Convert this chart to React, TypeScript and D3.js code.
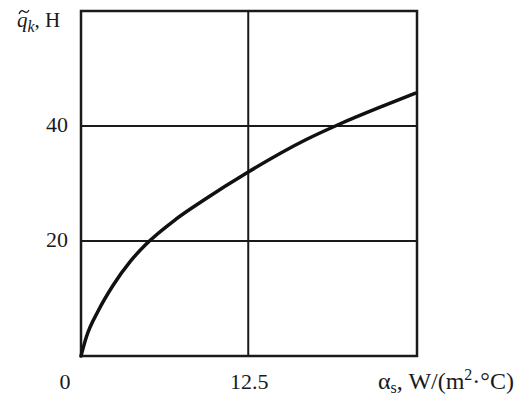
import React from "react";
import * as d3 from "d3";

// values
const alphaS = [0, 0.4, 1.3, 2.4, 3.7, 4.8, 7.1, 9.1, 12.5, 16.8, 19.3, 22.5, 25];
const qk = [0, 3.3, 7.9, 12.3, 16.5, 19.3, 23.8, 27.0, 32.0, 37.6, 40.3, 43.4, 45.7];
const xTicks = [12.5];
const yTicks = [20, 40];

interface DataPoint {
  x: number;
  y: number;
}

export default function App() {
  const width = 528;
  const height = 397;
  const left = 81, right = 417, top = 11, bottom = 356;

  const x = d3.scaleLinear().domain([0, 25]).range([left, right - 1.5]);
  const y = d3.scaleLinear().domain([0, 60]).range([bottom, top]);

  const data: DataPoint[] = alphaS.map((a, i) => ({ x: a, y: qk[i] }));
  const line = d3
    .line<DataPoint>()
    .x((d) => x(d.x))
    .y((d) => y(d.y))
    .curve(d3.curveMonotoneX);

  const font = "'Liberation Serif', 'Times New Roman', serif";

  return (
    <svg
      width={width}
      height={height}
      style={{ position: "absolute", left: 0, top: 0, background: "#fff" }}
      fontFamily={font}
      fontSize={22}
      fill="#1a1a1a"
    >
      {/* grid */}
      {xTicks.map((t) => (
        <line key={"gx" + t} x1={x(t)} x2={x(t)} y1={top} y2={bottom} stroke="#1a1a1a" strokeWidth={2} />
      ))}
      {yTicks.map((t) => (
        <line key={"gy" + t} x1={left} x2={right} y1={y(t)} y2={y(t)} stroke="#1a1a1a" strokeWidth={2} />
      ))}
      {/* frame */}
      <rect x={left} y={top} width={right - left} height={bottom - top} fill="none" stroke="#1a1a1a" strokeWidth={2.5} />

      <path d={line(data) ?? ""} fill="none" stroke="#111" strokeWidth={3.5} strokeLinecap="round" />

      {/* y tick labels */}
      {yTicks.map((t) => (
        <text key={"ly" + t} x={68} y={y(t) + 6} textAnchor="end">
          {t}
        </text>
      ))}
      {/* x tick labels */}
      <text x={65} y={389} textAnchor="middle">0</text>
      {xTicks.map((t) => (
        <text key={"lx" + t} x={x(t) + 1} y={389} textAnchor="middle">
          {t}
        </text>
      ))}

      {/* axis titles */}
      <text x={378} y={389} fontSize={24}>
        {"\u03b1"}
        <tspan fontSize={16} dy={4}>s</tspan>
        <tspan dy={-4}>, W/(m</tspan>
        <tspan fontSize={16} dy={-9}>2</tspan>
        <tspan dy={9}>{"\u00b7\u00b0C)"}</tspan>
      </text>
      <text x={17} y={27} fontSize={21}>
        <tspan fontStyle="italic">q</tspan>
        <tspan fontStyle="italic" fontSize={16} dy={5}>k</tspan>
        <tspan dy={-5}>, H</tspan>
      </text>
      <path d="M19,14 Q21,9 24,11.5 T29,10" fill="none" stroke="#1a1a1a" strokeWidth={1.3} />
    </svg>
  );
}
